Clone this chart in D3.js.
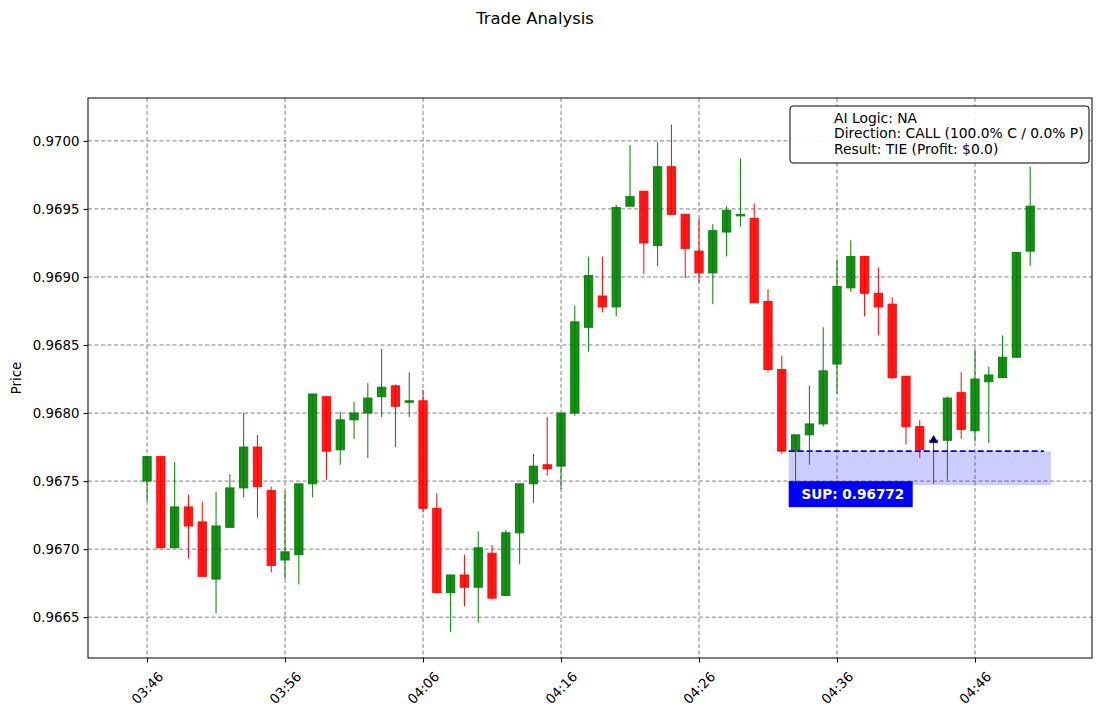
<!DOCTYPE html>
<html>
<head>
<meta charset="utf-8">
<script src="https://cdn.jsdelivr.net/npm/d3@7"></script>
<style>
  body { margin: 0; background: #fff; }
  text { font-family: "DejaVu Sans", sans-serif; }
</style>
</head>
<body>
<script>
// one candle per minute, starting at 03:46
const startTime = "03:46";
const opens = [0.96750,0.96768,0.96701,0.96731,0.96720,0.96678,0.96716,0.96745,0.96775,0.96743,
  0.96692,0.96696,0.96748,0.96812,0.96773,0.96795,0.96800,0.96812,0.96820,0.96808,
  0.96809,0.96730,0.96668,0.96681,0.96672,0.96697,0.96666,0.96712,0.96748,0.96762,
  0.96761,0.96800,0.96863,0.96886,0.96878,0.96952,0.96963,0.96923,0.96981,0.96946,
  0.96919,0.96903,0.96933,0.96945,0.96943,0.96882,0.96832,0.96772,0.96784,0.96792,
  0.96836,0.96892,0.96915,0.96888,0.96880,0.96827,0.96790,0.96780,0.96780,0.96815,
  0.96787,0.96823,0.96826,0.96841,0.96919];
const highs = [0.96768,0.96768,0.96764,0.96740,0.96735,0.96742,0.96755,0.96800,0.96784,0.96746,
  0.96743,0.96748,0.96814,0.96812,0.96801,0.96808,0.96822,0.96847,0.96821,0.96830,
  0.96817,0.96741,0.96681,0.96696,0.96713,0.96703,0.96714,0.96748,0.96770,0.96797,
  0.96800,0.96879,0.96915,0.96915,0.96953,0.96997,0.96963,0.96999,0.97012,0.96946,
  0.96943,0.96939,0.96952,0.96987,0.96954,0.96891,0.96842,0.96784,0.96820,0.96863,
  0.96913,0.96927,0.96915,0.96907,0.96885,0.96827,0.96795,0.96781,0.96812,0.96830,
  0.96847,0.96834,0.96857,0.96918,0.96981];
const lows = [0.96735,0.96701,0.96701,0.96693,0.96680,0.96653,0.96716,0.96738,0.96723,0.96683,
  0.96678,0.96674,0.96738,0.96751,0.96762,0.96781,0.96767,0.96797,0.96775,0.96797,
  0.96727,0.96668,0.96639,0.96658,0.96646,0.96663,0.96666,0.96689,0.96734,0.96754,
  0.96744,0.96798,0.96845,0.96874,0.96871,0.96952,0.96902,0.96908,0.96946,0.96899,
  0.96896,0.96880,0.96915,0.96937,0.96881,0.96830,0.96770,0.96750,0.96762,0.96790,
  0.96814,0.96889,0.96871,0.96857,0.96825,0.96777,0.96767,0.96748,0.96751,0.96781,
  0.96779,0.96778,0.96826,0.96841,0.96908];
const closes = [0.96768,0.96701,0.96731,0.96717,0.96680,0.96717,0.96745,0.96775,0.96746,0.96688,
  0.96698,0.96748,0.96814,0.96772,0.96795,0.96800,0.96811,0.96819,0.96805,0.96809,
  0.96730,0.96668,0.96681,0.96672,0.96701,0.96664,0.96712,0.96748,0.96761,0.96759,
  0.96800,0.96867,0.96901,0.96878,0.96951,0.96959,0.96925,0.96981,0.96946,0.96921,
  0.96903,0.96934,0.96949,0.96946,0.96881,0.96832,0.96772,0.96784,0.96792,0.96831,
  0.96893,0.96915,0.96888,0.96878,0.96826,0.96790,0.96773,0.96779,0.96811,0.96788,
  0.96825,0.96828,0.96841,0.96918,0.96952];

const xTickLabels = ["03:46","03:56","04:06","04:16","04:26","04:36","04:46"];
const yTicks = [0.9665,0.9670,0.9675,0.9680,0.9685,0.9690,0.9695,0.9700];

const supportLevel = 0.96772;
const supportZoneLow = 0.96747;
const supportFrom = 46.5, supportTo = 65, zoneTo = 65.5;
const entryIndex = 57, entryPrice = 0.96780;

const legendLines = ["AI Logic: NA", "Direction: CALL (100.0% C / 0.0% P)", "Result: TIE (Profit: $0.0)"];

const W = 1105, H = 716;
const margin = {left: 88, right: 13, top: 98, bottom: 58};

const svg = d3.select("body").append("svg").attr("width", W).attr("height", H);

const parseT = d3.timeParse("%H:%M");
const fmtT = d3.timeFormat("%H:%M");
const t0 = parseT(startTime);
const times = opens.map((d, i) => d3.timeMinute.offset(t0, i));
const candles = opens.map((o, i) => ({t: times[i], i: i, o: o, h: highs[i], l: lows[i], c: closes[i]}));

const x = d3.scaleLinear().domain([-4.28, 68.48]).range([margin.left, W - margin.right]);
const y = d3.scaleLinear().domain([0.96620, 0.970315]).range([H - margin.bottom, margin.top]);
const tickIdx = xTickLabels.map(s => d3.timeMinute.count(t0, parseT(s)));

const plot = svg.append("g");

// grid
plot.selectAll("line.gy").data(yTicks).enter().append("line")
  .attr("x1", margin.left).attr("x2", W - margin.right)
  .attr("y1", d => y(d)).attr("y2", d => y(d))
  .attr("stroke", "#808080").attr("stroke-width", 1).attr("stroke-dasharray", "4,2.5");
plot.selectAll("line.gx").data(tickIdx).enter().append("line")
  .attr("x1", d => x(d)).attr("x2", d => x(d))
  .attr("y1", margin.top).attr("y2", H - margin.bottom)
  .attr("stroke", "#808080").attr("stroke-width", 1).attr("stroke-dasharray", "4,2.5");

// support zone
plot.append("rect")
  .attr("x", x(supportFrom)).attr("width", x(zoneTo) - x(supportFrom))
  .attr("y", y(supportLevel)).attr("height", y(supportZoneLow) - y(supportLevel))
  .attr("fill", "blue").attr("fill-opacity", 0.2);

// candles
const bw = (x(1) - x(0)) * 0.6;
const col = d => d.c >= d.o ? "green" : "red";
const g = plot.selectAll("g.candle").data(candles).enter().append("g");
g.append("line")
  .attr("x1", d => x(d.i)).attr("x2", d => x(d.i))
  .attr("y1", d => y(d.h)).attr("y2", d => y(d.l))
  .attr("stroke", col).attr("stroke-width", 1);
g.append("rect")
  .attr("x", d => x(d.i) - bw / 2).attr("width", bw)
  .attr("y", d => y(Math.max(d.o, d.c)))
  .attr("height", d => Math.max(1.5, Math.abs(y(d.o) - y(d.c))))
  .attr("fill", col).attr("fill-opacity", 0.9)
  .attr("stroke", col).attr("stroke-opacity", 0.9).attr("stroke-width", 1);

// support line
plot.append("line")
  .attr("x1", x(supportFrom)).attr("x2", x(supportTo))
  .attr("y1", y(supportLevel)).attr("y2", y(supportLevel))
  .attr("stroke", "blue").attr("stroke-width", 1.8).attr("stroke-dasharray", "6,3");

// entry marker
const ex = x(entryIndex), ey = y(entryPrice);
plot.append("path")
  .attr("d", d3.symbol().type(d3.symbolTriangle).size(28)())
  .attr("transform", `translate(${ex},${ey})`)
  .attr("fill", "black").attr("stroke", "blue").attr("stroke-width", 0.8);

// support label
const lx = x(supportFrom), ly = y(supportLevel) + 30;
svg.append("rect").attr("x", lx).attr("y", ly).attr("width", 124).attr("height", 26).attr("fill", "blue");
svg.append("text").attr("x", lx + 12.7).attr("y", ly + 18.3)
  .attr("fill", "white").attr("font-weight", "bold").attr("font-size", "13.6px")
  .text("SUP: " + supportLevel.toFixed(5));

// frame
svg.append("rect").attr("x", margin.left).attr("y", margin.top)
  .attr("width", W - margin.left - margin.right).attr("height", H - margin.top - margin.bottom)
  .attr("fill", "none").attr("stroke", "black").attr("stroke-width", 1);

// y axis
const ya = svg.append("g").attr("transform", `translate(${margin.left},0)`)
  .call(d3.axisLeft(y).tickValues(yTicks).tickFormat(d3.format(".4f")).tickSize(4.5).tickPadding(4));
ya.select(".domain").remove();
ya.selectAll("text").attr("font-size", "13.33px").attr("font-family", "DejaVu Sans").attr("fill", "black");

// x axis
const xa = svg.append("g").attr("transform", `translate(0,${H - margin.bottom})`)
  .call(d3.axisBottom(x).tickValues(tickIdx).tickFormat(d => fmtT(d3.timeMinute.offset(t0, d))).tickSize(4.5));
xa.select(".domain").remove();
xa.selectAll("text")
  .attr("font-size", "13.33px").attr("font-family", "DejaVu Sans").attr("fill", "black")
  .attr("text-anchor", "middle").attr("dy", null).attr("dominant-baseline", "central")
  .attr("y", 30).attr("transform", "rotate(-45,0,30)");

// labels
svg.append("text").attr("transform", `translate(21,${(margin.top + H - margin.bottom) / 2}) rotate(-90)`)
  .attr("text-anchor", "middle").attr("font-size", "13.33px").text("Price");
svg.append("text").attr("x", 535).attr("y", 24).attr("text-anchor", "middle")
  .attr("font-size", "16.4px").text("Trade Analysis");

// legend
const lg = svg.append("g");
lg.append("rect").attr("x", 790).attr("y", 106).attr("width", 299).attr("height", 57).attr("rx", 3)
  .attr("fill", "white").attr("fill-opacity", 0.9).attr("stroke", "black").attr("stroke-width", 1);
lg.selectAll("text").data(legendLines).enter().append("text")
  .attr("x", 834).attr("y", (d, i) => 122.5 + i * 15.6)
  .attr("font-size", "13.85px").text(d => d);
</script>
</body>
</html>
